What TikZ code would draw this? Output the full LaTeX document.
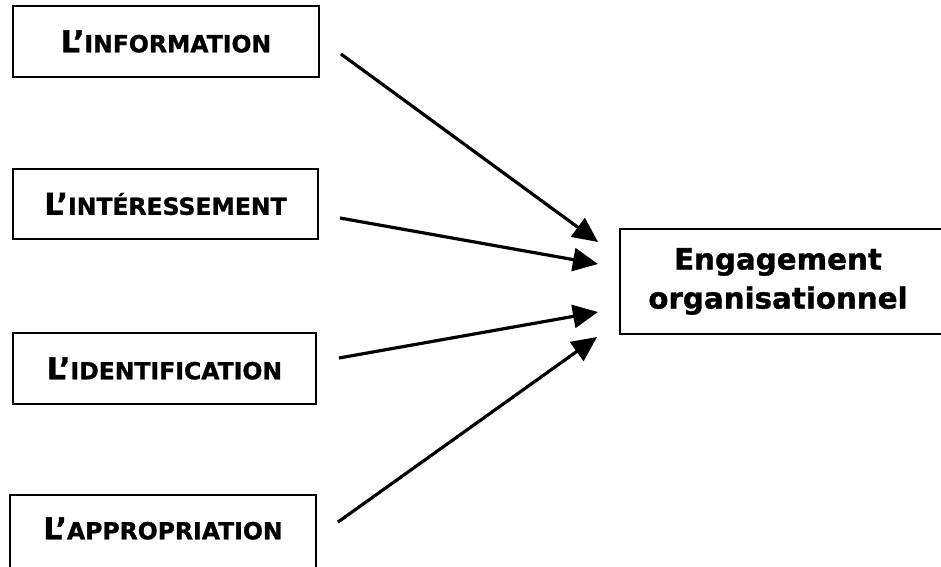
\documentclass[tikz,border=0pt]{standalone}
\usepackage{fontspec}
\setmainfont{DejaVu Sans}[BoldFeatures={FakeBold=1.2}]
\usetikzlibrary{arrows.meta}
\newcommand\capbig[1]{{\fontsize{30}{30}\selectfont #1}}
\newcommand\capsmall[1]{{\fontsize{23.5}{23.5}\selectfont #1}}
\tikzset{
  frame/.style={draw, line width=2.2pt, inner sep=0pt},
  factor/.style={frame, minimum height=71pt, font=\bfseries},
  label text/.style={font=\bfseries, inner sep=0pt},
  arrowline/.style={line width=3.2pt, -{Triangle[length=25pt,width=23pt]}},
  result/.style={font=\bfseries\fontsize{29.3}{39}\selectfont, align=center, inner sep=0pt},
}
\begin{document}
\begin{tikzpicture}[x=1pt, y=-1pt]
\useasboundingbox (0,0) rectangle (941,566);
% factor boxes on the left
\node[factor, minimum width=306pt] (info) at (166,41.5) {\capbig{L’}\capsmall{INFORMATION}};
\node[factor, minimum width=305pt, minimum height=70pt] (inter) at (165.5,204) {\capbig{L’}\capsmall{INTÉRESSEMENT}};
\node[factor, minimum width=303pt] (ident) at (164.5,368.5) {\capbig{L’}\capsmall{IDENTIFICATION}};
\node[frame, minimum width=306pt, minimum height=90pt] (appro) at (163,540) {};
\node[label text] (approtext) at (163,528.5) {\capbig{L’}\capsmall{APPROPRIATION}};
% outcome box on the right
\node[frame, minimum width=340pt, minimum height=105pt] (engbox) at (790,281.5) {};
\node[result] (eng) at (778,281.5) {Engagement\\organisationnel};
% arrows
\coordinate (s1) at (341,54);  \coordinate (t1) at (598,242);
\coordinate (s2) at (340,218); \coordinate (t2) at (598,264);
\coordinate (s3) at (339,358); \coordinate (t3) at (598,312);
\coordinate (s4) at (338,522); \coordinate (t4) at (597,337);
\draw[arrowline] (s1) -- (t1);
\draw[arrowline] (s2) -- (t2);
\draw[arrowline] (s3) -- (t3);
\draw[arrowline] (s4) -- (t4);
\end{tikzpicture}
\end{document}
